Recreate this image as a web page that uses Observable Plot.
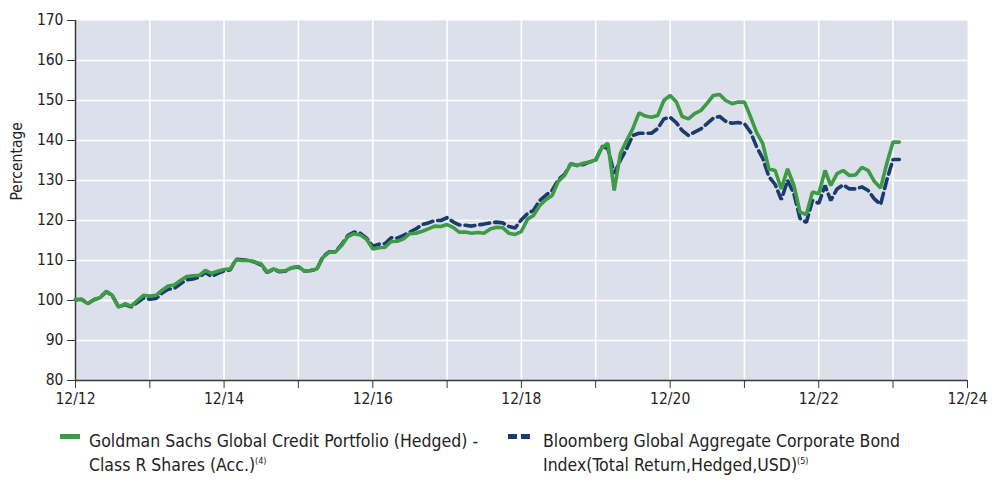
<!DOCTYPE html>
<html>
<head>
<meta charset="utf-8">
<script src="https://cdn.jsdelivr.net/npm/d3@7"></script>
<script src="https://cdn.jsdelivr.net/npm/@observablehq/plot@0.6"></script>
<style>
  html, body { margin: 0; padding: 0; background: #ffffff; }
  #wrap { position: relative; width: 999px; height: 483px; font-family: 'Liberation Sans Narrow', 'DejaVu Sans Condensed', 'Roboto', sans-serif; color: #222222; }
  #chart { position: absolute; left: 0; top: 0; }
  .sw { position: absolute; height: 5px; }
  .lt { position: absolute; font-size: 17.5px; line-height: 24px; white-space: nowrap; }
  .lt sup { font-size: 9px; vertical-align: 7px; line-height: 0; }
</style>
</head>
<body>
<div id="wrap">
  <div id="chart"></div>
  <div class="sw" style="left:60px; top:434px; width:20px; background:#3d9a45;"></div>
  <div class="lt" style="left:89px; top:429px;">Goldman Sachs Global Credit Portfolio (Hedged) -<br>Class R Shares (Acc.)<sup>(4)</sup></div>
  <div class="sw" style="left:508px; top:434px; width:9px; background:#1b3b6e;"></div>
  <div class="sw" style="left:521px; top:434px; width:9px; background:#1b3b6e;"></div>
  <div class="lt" style="left:543px; top:429px;">Bloomberg Global Aggregate Corporate Bond<br>Index(Total Return,Hedged,USD)<sup>(5)</sup></div>
</div>
<script>
// Monthly values, starting December 2012
const startYear = 2012, startMonth = 11; // December (0-based)
const fundValues = [
  100.2, 100.3, 99.2, 100.2, 100.7, 102.3, 101.3, 98.3, 99.2, 98.6,
  100.0, 101.3, 101.1, 101.3, 102.5, 103.6, 103.9, 105.0, 106.0, 106.2,
  106.3, 107.5, 106.8, 107.3, 107.75, 107.9, 110.2, 110.0, 110.0, 109.6,
  109.2, 107.1, 107.9, 107.3, 107.5, 108.2, 108.5, 107.3, 107.5, 107.9,
  110.8, 112.1, 112.1, 113.75, 116.0, 116.7, 116.4, 115.3, 112.9, 113.2,
  113.3, 114.75, 114.8, 115.4, 116.7, 116.8, 117.3, 117.9, 118.6, 118.5,
  119.0, 118.2, 117.1, 117.1, 116.8, 117.0, 116.8, 117.9, 118.3, 118.2,
  116.8, 116.5, 117.3, 120.4, 121.25, 123.75, 125.2, 126.25, 129.8, 131.25,
  134.2, 133.75, 134.3, 134.6, 135.2, 138.2, 139.3, 127.5, 136.7, 140.0,
  142.9, 146.9, 146.1, 145.8, 146.25, 150.0, 151.25, 149.6, 146.0, 145.4,
  146.7, 147.5, 149.3, 151.25, 151.5, 150.0, 149.2, 149.6, 149.6, 145.8,
  142.1, 139.2, 132.9, 132.5, 127.9, 132.9, 128.75, 122.1, 121.5, 127.1,
  126.7, 132.5, 128.75, 131.7, 132.5, 131.25, 131.4, 133.3, 132.5, 129.8,
  128.1, 134.2, 139.6, 139.6
];
const indexValues = [
  100.2, 100.3, 99.2, 100.2, 100.7, 102.2, 101.2, 98.4, 99.0, 98.4,
  99.5, 100.6, 100.3, 100.5, 101.8, 102.8, 103.0, 104.2, 105.2, 105.4,
  105.8, 107.0, 106.0, 106.8, 107.4, 107.7, 110.3, 110.2, 110.0, 109.6,
  108.9, 107.0, 107.8, 107.2, 107.4, 108.2, 108.4, 107.3, 107.5, 107.8,
  111.0, 112.2, 112.2, 114.0, 116.3, 117.1, 116.8, 115.6, 113.6, 114.1,
  114.2, 115.7, 115.6, 116.3, 117.1, 117.9, 119.0, 119.4, 120.0, 120.0,
  120.7, 119.6, 118.9, 118.8, 118.6, 118.9, 119.1, 119.4, 119.6, 119.4,
  118.5, 118.1, 120.2, 121.8, 122.5, 125.0, 126.3, 127.5, 130.2, 131.5,
  134.2, 133.75, 134.0, 134.6, 135.0, 138.5, 138.0, 131.7, 135.0, 137.9,
  141.25, 141.8, 141.8, 141.8, 143.0, 145.4, 145.8, 144.4, 142.5, 141.25,
  142.1, 142.9, 144.2, 145.6, 146.0, 144.8, 144.3, 144.5, 144.2, 142.0,
  138.5, 135.5, 131.0, 129.0, 125.2, 130.0, 126.7, 120.5, 119.5, 125.0,
  124.3, 128.75, 125.0, 127.9, 128.9, 127.9, 127.9, 128.4, 127.5, 125.4,
  124.0, 130.0, 135.25, 135.25
];
const yTicks = [80, 90, 100, 110, 120, 130, 140, 150, 160, 170];
const tickYears = [2012, 2013, 2014, 2015, 2016, 2017, 2018, 2019, 2020, 2021, 2022, 2023, 2024];
const fundName = "Goldman Sachs Global Credit Portfolio (Hedged) - Class R Shares (Acc.)";
const indexName = "Bloomberg Global Aggregate Corporate Bond Index(Total Return,Hedged,USD)";

const monthEnd = (i) => new Date(Date.UTC(startYear, startMonth + i + 1, 0));
const fund = fundValues.map((v, i) => ({date: monthEnd(i), value: v, series: fundName}));
const index = indexValues.map((v, i) => ({date: monthEnd(i), value: v, series: indexName}));
const yearTicks = tickYears.map(y => new Date(Date.UTC(y, 11, 31)));
const xDomain = [yearTicks[0], yearTicks[yearTicks.length - 1]];

const chart = Plot.plot({
  width: 999,
  height: 415,
  marginLeft: 75,
  marginRight: 32,
  marginTop: 20,
  marginBottom: 35,
  style: {fontFamily: "'Liberation Sans Narrow', 'DejaVu Sans Condensed', sans-serif", fontSize: "15.5px", color: "#222222", background: "#ffffff"},
  x: {type: "utc", domain: xDomain},
  y: {domain: [80, 170]},
  marks: [
    Plot.frame({fill: "#dbe0ea", stroke: null}),
    Plot.ruleX(yearTicks.slice(1, -1), {stroke: "#ffffff", strokeWidth: 1.6, strokeOpacity: 1}),
    Plot.ruleY(yTicks.slice(1, -1), {stroke: "#ffffff", strokeWidth: 1.6, strokeOpacity: 1}),
    Plot.axisY({ticks: yTicks, tickSize: 8, tickPadding: 4, label: null, tickFormat: d => String(d), stroke: "#3a3a3a"}),
    Plot.axisX({ticks: yearTicks, tickSize: 8, tickPadding: 4, label: null, stroke: "#3a3a3a",
      tickFormat: d => (d.getUTCFullYear() % 2 === 0 ? "12/" + String(d.getUTCFullYear()).slice(2) : "")}),
    Plot.ruleX([xDomain[0]], {stroke: "#3a3a3a", strokeWidth: 1.5}),
    Plot.ruleY([80], {stroke: "#3a3a3a", strokeWidth: 1.5}),
    Plot.text(["Percentage"], {frameAnchor: "left", dx: -58, rotate: -90, fontSize: 15.5, fill: "#222222"}),
    Plot.line(index, {x: "date", y: "value", stroke: "#1b3b6e", strokeWidth: 3.6, strokeDasharray: "10,5", strokeLinejoin: "miter", curve: "linear"}),
    Plot.line(fund, {x: "date", y: "value", stroke: "#3d9a45", strokeWidth: 3.6, strokeLinejoin: "miter", curve: "linear"})
  ]
});
document.getElementById("chart").appendChild(chart);
</script>
</body>
</html>
